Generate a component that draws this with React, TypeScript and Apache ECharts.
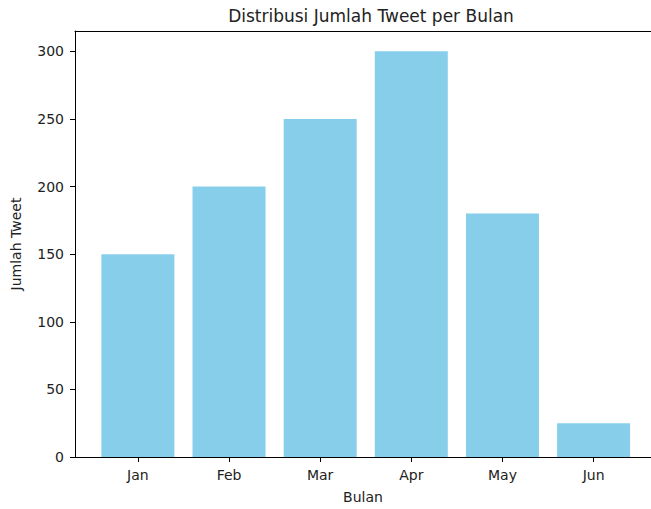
import React, { useEffect, useRef } from "react";
import * as echarts from "echarts";

const months = ["Jan", "Feb", "Mar", "Apr", "May", "Jun"];
const tweetCounts = [150, 200, 250, 300, 180, 25];
const yTicks = [0, 50, 100, 150, 200, 250, 300];
const titleText = "Distribusi Jumlah Tweet per Bulan";
const xName = "Bulan";
const yName = "Jumlah Tweet";

export default function App() {
  const ref = useRef<HTMLDivElement>(null);
  useEffect(() => {
    document.body.style.margin = "0";
    if (!ref.current) return;
    const chart = echarts.init(ref.current, undefined, { renderer: "svg" });
    const font = "DejaVu Sans";
    const txt = "#222";
    const xMin = -0.69;
    const xMax = 5.63;
    chart.setOption({
      animation: false,
      textStyle: { fontFamily: font },
      title: {
        text: titleText,
        left: 366,
        textAlign: "center",
        top: 2,
        textStyle: { fontFamily: font, fontSize: 17, fontWeight: "normal", color: txt },
      },
      grid: {
        left: 75,
        right: 0,
        top: 31,
        bottom: 51,
        show: false,
      },
      xAxis: [
        {
          type: "value",
          min: xMin,
          max: xMax,
          name: xName,
          nameLocation: "middle",
          nameGap: 33,
          nameTextStyle: { fontFamily: font, fontSize: 14, color: txt },
          splitLine: { show: false },
          axisLine: { show: true, onZero: false, lineStyle: { color: "#000", width: 1 } },
          axisTick: { show: true, length: 5, lineStyle: { color: "#000" }, customValues: months.map((_, i) => i) },
          axisLabel: {
            customValues: months.map((_, i) => i),
            formatter: (v: number) => months[Math.round(v)] ?? "",
            fontFamily: font,
            fontSize: 14,
            color: txt,
            margin: 11,
          },
        },
        {
          type: "value",
          position: "top",
          min: xMin,
          max: xMax,
          splitLine: { show: false },
          axisLine: { show: true, onZero: false, lineStyle: { color: "#000", width: 1 } },
          axisTick: { show: false },
          axisLabel: { show: false },
        },
      ],
      yAxis: {
        type: "value",
        min: 0,
        max: 315,
        name: yName,
        nameLocation: "middle",
        nameGap: 52,
        nameTextStyle: { fontFamily: font, fontSize: 14, color: txt },
        splitLine: { show: false },
        axisLine: { show: true, onZero: false, lineStyle: { color: "#000", width: 1 } },
        axisTick: { show: true, length: 5, lineStyle: { color: "#000" }, customValues: yTicks },
        axisLabel: {
          customValues: yTicks,
          fontFamily: font,
          fontSize: 14,
          color: txt,
          margin: 11,
        },
      },
      series: [
        {
          type: "bar",
          xAxisIndex: 0,
          data: tweetCounts.map((v, i) => [i, v]),
          barWidth: 73,
          itemStyle: { color: "#87CEEB" },
        },
      ],
    });
    return () => chart.dispose();
  }, []);
  return <div ref={ref} style={{ width: 651, height: 509 }} />;
}
